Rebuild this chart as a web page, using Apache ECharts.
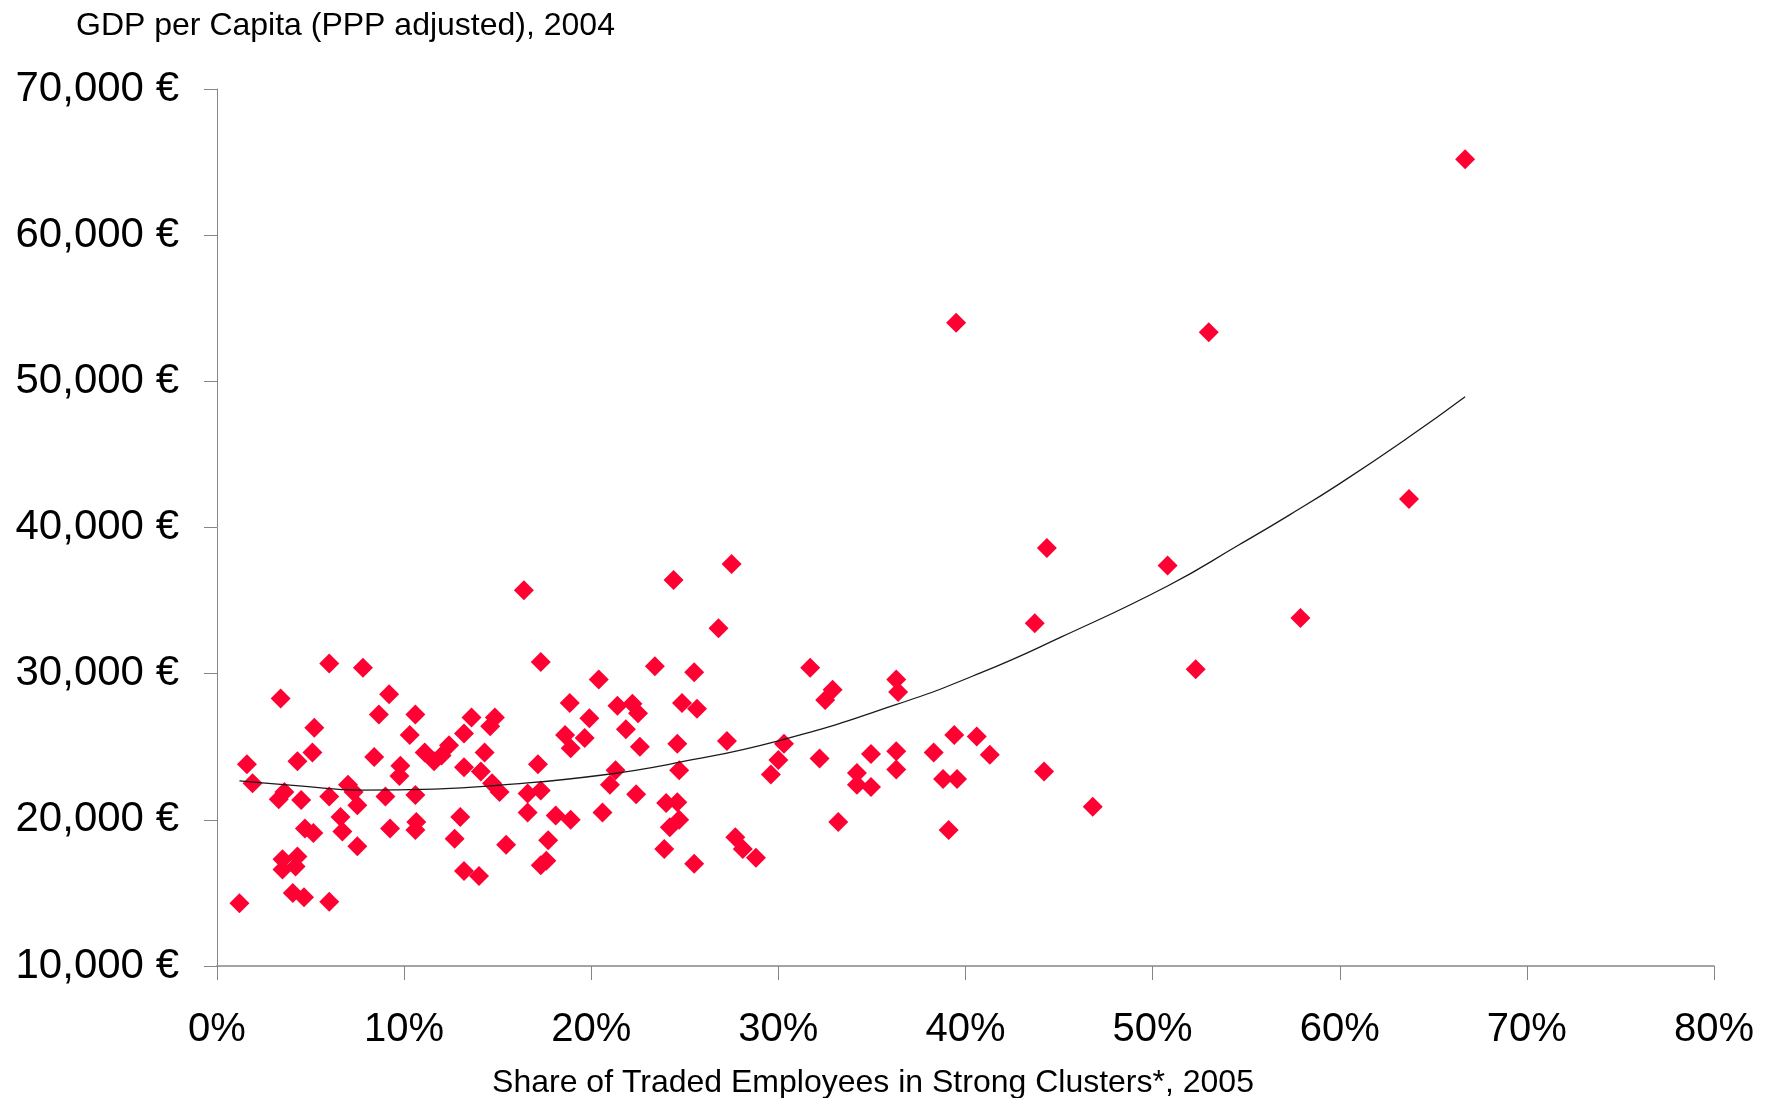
<!DOCTYPE html>
<html>
<head>
<meta charset="utf-8">
<title>GDP per Capita vs. Share of Traded Employees in Strong Clusters</title>
<script src="https://cdn.jsdelivr.net/npm/echarts@6/dist/echarts.min.js"></script>
<style>
  html, body { margin: 0; padding: 0; background: #ffffff; }
  #chart { width: 1771px; height: 1098px; }
</style>
</head>
<body>
<div id="chart"></div>
<script>
// Share of traded employees in strong clusters, 2005 (percent), one entry per region
const shareStrongClusters = [
  1.2, 1.6, 1.9, 3.4, 3.3, 3.6, 4.5, 3.5, 4.3, 3.5,
  4.2, 4.05, 4.65, 4.3, 5.1, 5.2, 4.7, 5.15, 6.0, 6.0,
  6.0, 6.6, 6.7, 7.0, 7.3, 7.5, 7.5, 7.8, 8.4, 8.65,
  9.0, 9.2, 9.25, 9.8, 9.75, 10.3, 10.6, 10.6, 10.65, 10.6,
  11.1, 11.6, 12.0, 12.4, 12.7, 13.0, 13.2, 13.2, 13.2, 13.6,
  14.0, 14.3, 14.1, 14.7, 14.6, 14.85, 15.1, 15.45, 16.4, 16.6,
  16.6, 17.15, 17.3, 17.3, 17.3, 17.6, 17.7, 18.1, 18.6, 18.85,
  18.9, 18.9, 19.65, 19.9, 20.4, 20.6, 21.0, 21.3, 21.4, 21.85,
  22.2, 22.5, 22.6, 22.4, 23.4, 23.9, 24.0, 24.2, 24.4, 24.6,
  24.6, 24.7, 24.7, 24.85, 25.5, 25.65, 25.5, 26.8, 27.25, 27.5,
  27.7, 28.1, 28.8, 29.6, 30.0, 30.3, 31.7, 32.2, 32.5, 32.9,
  33.2, 34.2, 34.2, 34.95, 34.95, 36.3, 36.4, 36.3, 36.3, 38.3,
  38.8, 39.1, 39.4, 39.5, 39.55, 40.6, 41.3, 43.7, 44.2, 44.35,
  46.8, 50.8, 52.3, 53.0, 57.9, 63.7, 66.7
];

// GDP per capita (PPP adjusted), 2004, in euros, same order as above
const gdpPerCapita = [
  14300, 23800, 22500, 28300, 21400, 21900, 21350, 17300, 17500, 16600,
  16800, 15000, 14700, 24000, 24600, 26300, 19400, 19100, 30700, 21600,
  14400, 20200, 19200, 22400, 21900, 21000, 18200, 30400, 24300, 27200,
  21600, 28600, 19400, 23700, 23000, 25800, 27200, 21700, 19850, 19300,
  24600, 24000, 24400, 25100, 18700, 20200, 25900, 23600, 16500, 27000,
  16150, 24600, 23300, 22500, 26400, 27000, 21900, 18300, 35700, 21800,
  20500, 23800, 30800, 22000, 16900, 17200, 18600, 20300, 25800, 28000,
  24900, 20000, 25600, 26950, 29600, 20500, 22400, 23400, 27800, 26200,
  27950, 27300, 25000, 21750, 30500, 18000, 21150, 19500, 36400, 25200,
  21200, 23400, 20000, 28000, 30100, 27600, 17000, 33100, 25400, 37500,
  18800, 18000, 17400, 23100, 24100, 25200, 30400, 24200, 28200, 28900,
  19850, 23200, 22400, 24500, 22250, 29600, 28750, 24700, 23450, 24600,
  22800, 19300, 25800, 54000, 22800, 25700, 24450, 33450, 23300, 38600,
  20900, 37400, 30300, 53350, 33800, 41950, 65200
];

// Polynomial trend line, sampled along its length
const trendX = [1.2, 4.4, 7.7, 11.6, 15.1, 20.5, 24.8, 30.1, 36.2, 40.8, 45.1, 50.8, 54.6, 57.3, 60.0, 63.6, 66.7];
const trendY = [22660, 22320, 22030, 22100, 22370, 23050, 23960, 25440, 27840, 30050, 32500, 36000, 38800, 40850, 43000, 46100, 48950];

// Axis ticks
const xTicks = { min: 0, max: 80, step: 10 };
const yTicks = { min: 10000, max: 70000, step: 10000 };

const titleText = 'GDP per Capita (PPP adjusted), 2004';
const xAxisTitle = 'Share of Traded Employees in Strong Clusters*, 2005';

const FONT = '"Liberation Sans", Arial, Helvetica, sans-serif';
const AXIS_GREY = '#868686';

const points = shareStrongClusters.map((x, i) => [x, gdpPerCapita[i]]);
const trend = trendX.map((x, i) => [x, trendY[i]]);

const chart = echarts.init(document.getElementById('chart'), null, { renderer: 'canvas' });

chart.setOption({
  animation: false,
  backgroundColor: '#ffffff',
  grid: { left: 217, right: 57, top: 89, bottom: 132, containLabel: false },
  graphic: [
    {
      type: 'text',
      left: 76,
      top: 10,
      style: { text: titleText, font: '32px ' + FONT, fill: '#000000' }
    },
    {
      type: 'text',
      x: 873,
      y: 1083,
      style: {
        text: xAxisTitle,
        font: '32px ' + FONT,
        fill: '#000000',
        align: 'center',
        verticalAlign: 'middle'
      }
    }
  ],
  xAxis: {
    type: 'value',
    min: xTicks.min,
    max: xTicks.max,
    interval: xTicks.step,
    axisLine: { show: true, onZero: false, lineStyle: { color: AXIS_GREY, width: 1.5 } },
    axisTick: { show: true, inside: false, length: 14, lineStyle: { color: AXIS_GREY, width: 1 } },
    axisLabel: {
      formatter: '{value}%',
      fontSize: 40,
      fontFamily: FONT,
      color: '#000000',
      margin: 44,
      showMinLabel: true,
      showMaxLabel: true
    },
    splitLine: { show: false }
  },
  yAxis: {
    type: 'value',
    min: yTicks.min,
    max: yTicks.max,
    interval: yTicks.step,
    axisLine: { show: true, onZero: false, lineStyle: { color: AXIS_GREY, width: 1 } },
    axisTick: { show: true, inside: false, length: 13, lineStyle: { color: AXIS_GREY, width: 1 } },
    axisLabel: {
      formatter: v => v.toLocaleString('en-US') + ' €',
      fontSize: 42,
      fontFamily: FONT,
      color: '#000000',
      margin: 38,
      showMinLabel: true,
      showMaxLabel: true
    },
    splitLine: { show: false }
  },
  series: [
    {
      name: 'Regions',
      type: 'scatter',
      data: points,
      symbol: 'diamond',
      symbolSize: 20,
      itemStyle: { color: '#FF0033', opacity: 1 },
      z: 2
    },
    {
      name: 'Trend',
      type: 'line',
      data: trend,
      smooth: 0.5,
      showSymbol: false,
      symbol: 'none',
      lineStyle: { color: '#1a1a1a', width: 1.3 },
      z: 3
    }
  ]
});
</script>
</body>
</html>
